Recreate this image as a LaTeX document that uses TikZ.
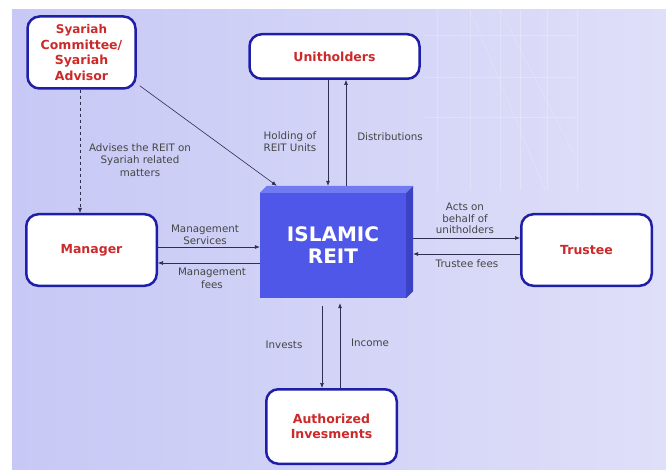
\documentclass[tikz,border=0pt]{standalone}
\usepackage{fontspec}
\setmainfont{DejaVu Sans}
\usetikzlibrary{arrows.meta,calc}
\definecolor{bgl}{HTML}{C7C8F5}
\definecolor{bgr}{HTML}{DFDFF9}
\definecolor{boxline}{HTML}{1E1EA8}
\definecolor{boxtext}{HTML}{CC2A2A}
\definecolor{reitfront}{HTML}{4E57E8}
\definecolor{reittop}{HTML}{717AF0}
\definecolor{reitside}{HTML}{3B43C4}
\definecolor{linec}{HTML}{2E2E4E}
\definecolor{labc}{HTML}{454545}
\begin{document}
\begin{tikzpicture}[x=1pt,y=-1pt,
  entity/.style={draw=boxline,line width=2.5pt,fill=white,rounded corners=12pt,
    text=boxtext,font=\bfseries\fontsize{12.5}{15.5}\selectfont,align=center,inner sep=0pt},
  lab/.style={text=labc,font=\fontsize{10.3}{12.5}\selectfont,align=center,inner sep=0pt},
  arr/.style={draw=linec,line width=0.6pt,-{Latex[length=5pt,width=4pt]}}]
\useasboundingbox (0,0) rectangle (666,470);
\shade[left color=bgl,right color=bgr] (12,10) rectangle (666,470);
% faint grid
\begin{scope}[draw=white,opacity=0.22,line width=0.6pt]
\foreach \x in {437,470,500,520,547,577}{\draw (\x,10) -- (\x,190);}
\foreach \y in {35,77,117}{\draw (425,\y) -- (577,\y);}
\draw (470,10) -- (545,190);
\draw (500,10) -- (577,160);
\end{scope}
% entities
\node[entity,minimum width=108pt,minimum height=72pt] (syar) at (81.5,52.5)
  {\fontsize{12}{15.5}\selectfont Syariah\\Committee/\\Syariah\\Advisor};
\node[entity,minimum width=170pt,minimum height=44.5pt] (unit) at (334.5,56.5) {Unitholders};
\node[entity,minimum width=130.5pt,minimum height=71.5pt] (man) at (91.5,250) {Manager};
\node[entity,minimum width=130.5pt,minimum height=71.5pt] (trus) at (586.5,250) {Trustee};
\node[entity,minimum width=130.5pt,minimum height=74.5pt] (auth) at (331.5,426.5) {Authorized\\Invesments};
% REIT 3D box
\node[fill=reitfront,minimum width=146pt,minimum height=105pt,inner sep=0pt,
  text=white,font=\bfseries\fontsize{20}{22}\selectfont,align=center] (reit) at (333,245.5) {ISLAMIC\\REIT};
\fill[reittop] (reit.north west) -- ++(7,-7) -- ($(reit.north east)+(7,-7)$) -- (reit.north east) -- cycle;
\fill[reitside] (reit.north east) -- ++(7,-7) -- ($(reit.south east)+(7,-7)$) -- (reit.south east) -- cycle;
\coordinate (rtop) at ($(reit.north)+(0,-7)$);
% connectors
\coordinate (d1) at ($(syar.south)+(-1.5,0)$);
\draw[arr,dashed] (d1) -- (d1 |- man.north);
\draw[arr] ($(syar.south east)+(3,-4)$) -- ($(reit.north west)+(17,-7)$);
\coordinate (u1) at ($(unit.south)+(-6.5,0)$);
\coordinate (u2) at ($(unit.south)+(11.5,0)$);
\draw[arr] (u1) -- (u1 |- rtop);
\draw[arr] (u2 |- rtop) -- (u2);
\coordinate (m1) at ($(reit.west)+(0,1.5)$);
\coordinate (m2) at ($(reit.west)+(0,17.5)$);
\draw[arr] (m1 -| man.east) -- (m1);
\draw[arr] (m2) -- (m2 -| man.east);
\coordinate (t1) at ($(reit.east)+(7,-7.5)$);
\coordinate (t2) at ($(reit.east)+(7,8.5)$);
\draw[arr] (t1) -- (t1 -| trus.west);
\draw[arr] (t2 -| trus.west) -- (t2);
\coordinate (a1) at ($(reit.south)+(-11,8)$);
\coordinate (a2) at ($(reit.south)+(7,5)$);
\draw[arr] (a1) -- (a1 |- auth.north);
\draw[arr] (a2 |- auth.north) -- (a2);
% labels
\node[lab] (l1) at (140,160) {Advises the REIT on\\Syariah related\\matters};
\node[lab] (l2) at (290,141.5) {Holding of\\REIT Units};
\node[lab] (l3) at (390,137) {Distributions};
\node[lab] (l4) at (205,235) {Management\\Services};
\node[lab] (l5) at (212,278.5) {Management\\fees};
\node[lab,font=\fontsize{10.3}{11.5}\selectfont] (l6) at (465,218.5) {Acts on\\behalf of\\unitholders};
\node[lab] (l7) at (467,264) {Trustee fees};
\node[lab] (l8) at (284,345) {Invests};
\node[lab] (l9) at (370,343) {Income};
\end{tikzpicture}
\end{document}
